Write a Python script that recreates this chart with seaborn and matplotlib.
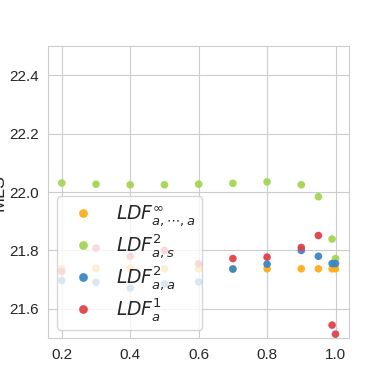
from matplotlib import pyplot as plt
import pandas as pd
import seaborn as sns

# values
x_vals = [0.2, 0.3, 0.4, 0.5, 0.6, 0.7, 0.8, 0.9, 0.95, 0.99, 1.0]
labels = [r'$LDF^{\infty}_{a,\cdots,a}$', r'$LDF^2_{a,s}$', r'$LDF^2_{a,a}$', r'$LDF^1_a$']
ldf_inf = [21.737, 21.738, 21.739, 21.737, 21.737, 21.737, 21.737, 21.737, 21.737, 21.737, 21.737]
ldf_as = [22.031, 22.027, 22.025, 22.025, 22.027, 22.030, 22.035, 22.025, 21.984, 21.839, 21.772]
ldf_aa = [21.697, 21.691, 21.671, 21.685, 21.692, 21.736, 21.753, 21.800, 21.780, 21.755, 21.755]
ldf_1 = [21.728, 21.808, 21.780, 21.800, 21.754, 21.772, 21.777, 21.810, 21.851, 21.544, 21.513]
colors = ['#fdae1b', '#a3d652', '#3a87c5', '#e0424a']

rows = []
for lab, ys in zip(labels, [ldf_inf, ldf_as, ldf_aa, ldf_1]):
    for x, y in zip(x_vals, ys):
        rows.append({'x': x, 'MLS': y, 'method': lab})
df = pd.DataFrame(rows)

sns.set_style('whitegrid')
plt.rcParams['font.family'] = ['Liberation Sans', 'DejaVu Sans']

fig = plt.figure(figsize=(3.88, 3.88), dpi=100)
ax = fig.add_axes([0.124, 0.129, 0.776, 0.752])
sns.scatterplot(data=df, x='x', y='MLS', hue='method', palette=colors,
                s=30, alpha=0.95, linewidth=0, ax=ax)

ax.set_ylim(21.5, 22.5)
ax.set_yticks([21.6, 21.8, 22.0, 22.2, 22.4])
ax.set_xticks([0.2, 0.4, 0.6, 0.8, 1.0])
ax.tick_params(labelsize=11)
ax.set_xlabel('')
ax.set_ylabel('MLS', fontsize=13)
ax.yaxis.set_label_coords(-0.135, 0.5)

ax.legend(loc='lower left', fontsize=13.5, markerscale=1.15, labelspacing=0.22,
          handlelength=1.95, handletextpad=0.8, borderpad=0.38, framealpha=0.8,
          borderaxespad=0, bbox_to_anchor=(0.03, 0.027))

fig.savefig('out.png', dpi=100)
